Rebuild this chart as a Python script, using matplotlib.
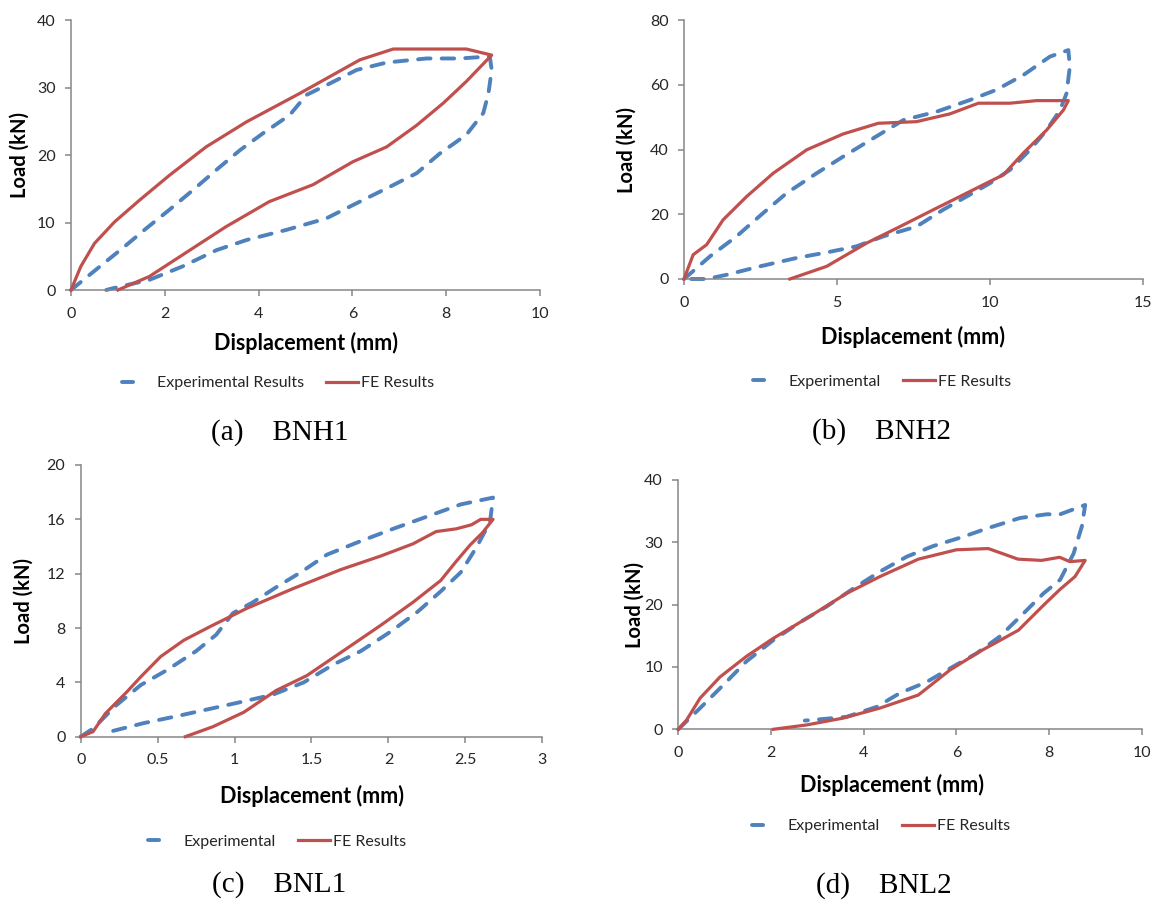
import matplotlib
matplotlib.use("Agg")
import matplotlib.pyplot as plt
from matplotlib.lines import Line2D
from matplotlib.ticker import FuncFormatter, MultipleLocator

plt.rcParams['lines.scale_dashes'] = False

W, H = 1160, 906

# ---------------- data ----------------
# (a) BNH1
a_exp_x = [0, 0.53, 1.1, 1.6, 2.1, 2.6, 3.1, 3.6, 4.09, 4.66, 5.02, 5.52, 6.09, 6.73, 7.58, 8.29, 8.93,
           8.97, 8.9, 8.79, 8.43, 7.86, 7.37, 6.8, 6.16, 5.44, 4.59, 3.74, 3.1, 2.38, 1.67, 0.89, 0.75]
a_exp_y = [0, 3.0, 6.2, 9.1, 11.9, 14.8, 17.8, 20.7, 23.2, 25.9, 28.9, 30.6, 32.6, 33.7, 34.3, 34.3, 34.6,
           32.6, 29.1, 26.2, 23.0, 20.2, 17.3, 15.3, 13.1, 10.6, 8.9, 7.4, 5.9, 3.5, 1.5, 0.25, 0]
a_fe_x = [0, 0.21, 0.5, 0.93, 1.46, 2.1, 2.88, 3.74, 4.87, 6.16, 6.87, 8.43, 8.97,
          8.43, 7.94, 7.37, 6.73, 6.01, 5.16, 4.23, 3.31, 2.6, 1.67, 1.0]
a_fe_y = [0, 3.5, 6.9, 10.1, 13.3, 17.0, 21.2, 24.9, 29.1, 34.1, 35.7, 35.7, 34.8,
          30.9, 27.7, 24.4, 21.2, 19.0, 15.6, 13.1, 9.4, 6.2, 2.0, 0]

# (b) BNH2
b_exp_x = [0, 0.85, 1.72, 2.59, 3.35, 4.34, 5.2, 6.19, 7.17, 8.26, 9.35, 10.2, 11.09, 11.96, 12.56,
           12.61, 12.5, 12.29, 11.85, 11.31, 10.65, 10.0, 9.24, 8.47, 7.6, 6.52, 5.64, 4.66, 3.68, 2.48,
           1.39, 0.74, 0.2]
b_exp_y = [0, 7.0, 13.2, 20.4, 26.5, 32.7, 37.8, 43.5, 49.1, 51.7, 55.3, 58.4, 63.0, 68.7, 70.7,
           65.6, 57.3, 52.2, 46.0, 39.9, 33.7, 29.6, 25.5, 21.4, 16.2, 13.2, 10.1, 8.2, 6.5, 3.9,
           1.3, 0, 0]
b_fe_x = [0, 0.3, 0.74, 1.28, 2.05, 2.92, 4.01, 5.2, 6.35, 7.6, 8.69, 9.62, 10.65, 11.53, 12.56,
          12.4, 11.85, 11.09, 10.44, 9.78, 9.02, 8.15, 7.06, 5.97, 4.66, 3.46]
b_fe_y = [0, 7.5, 10.6, 18.3, 25.5, 32.7, 39.9, 44.8, 48.1, 48.6, 51.0, 54.3, 54.3, 55.1, 55.1,
          52.2, 46.0, 38.9, 32.2, 29.1, 25.5, 21.4, 16.2, 11.1, 3.9, 0]

# (c) BNL1
c_exp_x = [0, 0.08, 0.23, 0.39, 0.56, 0.75, 0.88, 0.99, 1.12, 1.27, 1.43, 1.6, 1.82, 2.03, 2.25, 2.47, 2.68,
           2.66, 2.57, 2.47, 2.34, 2.19, 2.01, 1.82, 1.64, 1.45, 1.25, 1.06, 0.86, 0.62, 0.41, 0.19, 0.15]
c_exp_y = [0, 0.6, 2.3, 3.8, 4.9, 6.3, 7.5, 9.1, 9.9, 11.0, 12.1, 13.4, 14.4, 15.3, 16.2, 17.1, 17.6,
           15.8, 13.9, 12.1, 10.7, 9.2, 7.7, 6.3, 5.3, 4.0, 3.1, 2.6, 2.1, 1.5, 1.0, 0.37, 0.25]
c_fe_x = [0, 0.08, 0.16, 0.3, 0.39, 0.52, 0.67, 0.84, 1.08, 1.38, 1.69, 1.95, 2.16, 2.31, 2.44, 2.54, 2.6, 2.68,
          2.61, 2.53, 2.44, 2.34, 2.16, 1.95, 1.73, 1.47, 1.27, 1.06, 0.86, 0.68]
c_fe_y = [0, 0.37, 1.7, 3.3, 4.4, 5.9, 7.1, 8.1, 9.45, 10.9, 12.3, 13.3, 14.2, 15.1, 15.3, 15.6, 16.0, 16.0,
          15.0, 14.1, 12.9, 11.5, 9.9, 8.2, 6.5, 4.5, 3.4, 1.8, 0.74, 0]

# (d) BNL2
d_exp_x = [0, 0.47, 0.97, 1.47, 2.05, 2.63, 3.2, 3.78, 4.35, 4.93, 5.5, 6.15, 6.65, 7.37, 7.95, 8.24, 8.78,
           8.71, 8.53, 8.24, 7.88, 7.45, 6.94, 6.44, 5.94, 5.36, 4.78, 4.28, 3.63, 2.91, 2.73]
d_exp_y = [0, 3.4, 7.1, 10.9, 14.3, 17.2, 19.7, 22.6, 25.3, 27.7, 29.4, 30.9, 32.2, 33.9, 34.5, 34.5, 36.0,
           32.6, 28.2, 24.0, 21.8, 18.6, 14.9, 12.2, 10.1, 7.6, 5.8, 3.6, 2.0, 1.5, 1.4]
d_fe_x = [0, 0.18, 0.47, 0.9, 1.47, 2.05, 2.77, 3.63, 4.35, 5.18, 6.0, 6.69, 7.33, 7.84, 8.23, 8.45, 8.78,
          8.56, 8.23, 7.88, 7.34, 6.51, 5.86, 5.18, 4.35, 3.56, 2.77, 2.05]
d_fe_y = [0, 1.5, 5.0, 8.4, 11.7, 14.6, 17.8, 21.8, 24.5, 27.3, 28.8, 29.0, 27.3, 27.1, 27.6, 26.9, 27.1,
          24.5, 22.4, 19.9, 15.9, 12.5, 9.5, 5.5, 3.4, 1.8, 0.7, 0]

panels = [
    dict(ex=a_exp_x, ey=a_exp_y, fx=a_fe_x, fy=a_fe_y, xlim=(0, 10), xstep=2, ylim=(0, 40), ystep=10,
         box=(71, 540, 20, 290), xlab=(306, 343), ylab=(20, 155), leg=(278, 383),
         exp_label='Experimental Results', cap='(a)    BNH1', capxy=(280, 433)),
    dict(ex=b_exp_x, ey=b_exp_y, fx=b_fe_x, fy=b_fe_y, xlim=(0, 15), xstep=5, ylim=(0, 80), ystep=20,
         box=(684, 1143, 20, 279), xlab=(913, 337), ylab=(627, 150), leg=(882, 382),
         exp_label='Experimental', cap='(b)    BNH2', capxy=(881, 432)),
    dict(ex=c_exp_x, ey=c_exp_y, fx=c_fe_x, fy=c_fe_y, xlim=(0, 3), xstep=0.5, ylim=(0, 20), ystep=4,
         box=(80.7, 542.3, 465, 736.7), xlab=(312, 796), ylab=(24, 601), leg=(277, 842),
         exp_label='Experimental', cap='(c)    BNL1', capxy=(279, 885)),
    dict(ex=d_exp_x, ey=d_exp_y, fx=d_fe_x, fy=d_fe_y, xlim=(0, 10), xstep=2, ylim=(0, 40), ystep=10,
         box=(678.3, 1141.7, 480, 729.3), xlab=(892, 785), ylab=(635, 605), leg=(881, 826),
         exp_label='Experimental', cap='(d)    BNL2', capxy=(884, 886)),
]

BLUE = '#4F81BD'
RED = '#C0504D'
GRAY = '#868686'
TXT = '#262626'

fig = plt.figure(figsize=(W / 100, H / 100), dpi=100)
fig.patch.set_facecolor('white')

fmt = FuncFormatter(lambda v, p: '%g' % v)

for p in panels:
    L, R, T, B = p['box']
    ax = fig.add_axes([L / W, 1 - B / H, (R - L) / W, (B - T) / H])
    ax.plot(p['ex'], p['ey'], color=BLUE, lw=2.8, dashes=(9, 8), dash_capstyle='round',
            solid_capstyle='round', clip_on=False, zorder=2)
    ax.plot(p['fx'], p['fy'], color=RED, lw=2.3, solid_joinstyle='round', clip_on=False, zorder=3)
    ax.set_xlim(*p['xlim'])
    ax.set_ylim(*p['ylim'])
    ax.xaxis.set_major_locator(MultipleLocator(p['xstep']))
    ax.yaxis.set_major_locator(MultipleLocator(p['ystep']))
    ax.xaxis.set_major_formatter(fmt)
    ax.yaxis.set_major_formatter(fmt)
    for s in ['top', 'right']:
        ax.spines[s].set_visible(False)
    for s in ['left', 'bottom']:
        ax.spines[s].set_color(GRAY)
        ax.spines[s].set_linewidth(1.1)
    ax.tick_params(axis='both', direction='out', length=4, width=1.1, color=GRAY,
                   labelsize=11.5, labelcolor=TXT, pad=7)
    ax.tick_params(axis='x', pad=8)
    for lab in ax.get_xticklabels() + ax.get_yticklabels():
        lab.set_family('Lato')
    ax.set_xlabel('Displacement (mm)', fontsize=15.5, fontweight='bold', family='Lato', color='black')
    ax.set_ylabel('Load (kN)', fontsize=14.5, fontweight='bold', family='Lato', color='black')
    ax.xaxis.set_label_coords((p['xlab'][0] - L) / (R - L), -(p['xlab'][1] - B) / (B - T))
    ax.xaxis.label.set_verticalalignment('center')
    ax.yaxis.set_label_coords((p['ylab'][0] - L) / (R - L), (B - p['ylab'][1]) / (B - T))
    ax.yaxis.label.set_verticalalignment('center')

    h_exp = Line2D([], [], color=BLUE, lw=2.8, dashes=(8, 100), dash_capstyle='round')
    h_fe = Line2D([], [], color=RED, lw=2.3)
    fig.legend([h_exp, h_fe], [p['exp_label'], 'FE Results'], loc='center',
               bbox_to_anchor=(p['leg'][0] / W, 1 - p['leg'][1] / H), ncol=2, frameon=False,
               handlelength=2.0, handletextpad=0.2, columnspacing=1.4,
               prop={'family': 'Lato', 'size': 11.5}, labelcolor=TXT)
    fig.text(p['capxy'][0] / W, 1 - p['capxy'][1] / H, p['cap'], ha='center', va='center',
             family='Liberation Serif', fontsize=21, color='black')

fig.savefig('out.png', dpi=100, facecolor='white')
